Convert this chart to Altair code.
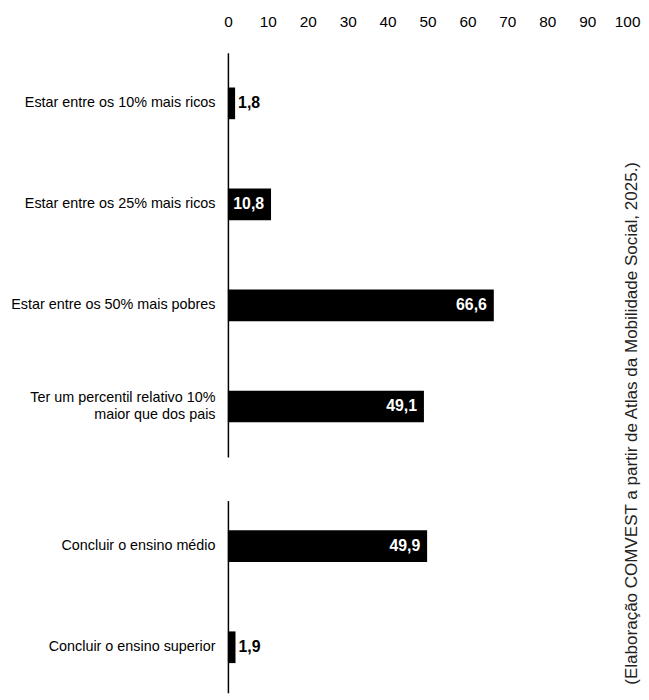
import altair as alt
import pandas as pd

categories_top = [
    "Estar entre os 10% mais ricos",
    "Estar entre os 25% mais ricos",
    "Estar entre os 50% mais pobres",
    "Ter um percentil relativo 10%|maior que dos pais",
]
values_top = [1.8, 10.8, 66.6, 49.1]
categories_bottom = ["Concluir o ensino médio", "Concluir o ensino superior"]
values_bottom = [49.9, 1.9]
x_ticks = [0, 10, 20, 30, 40, 50, 60, 70, 80, 90, 100]
source_text = "(Elaboração COMVEST a partir de Atlas da Mobilidade Social, 2025.)"

FONT = "Liberation Sans, Arial, sans-serif"
W = 403
H_TOP = 408
H_BOT = 194


def fmt(v):
    return f"{v:.1f}".replace(".", ",")


def panel(cats, vals, show_x, yscale):
    df = pd.DataFrame({"cat": cats, "v": vals, "lab": [fmt(v) for v in vals]})
    x_axis = (
        alt.Axis(orient="top", values=x_ticks, ticks=False, domain=False, grid=False,
                 labelFont=FONT, labelFontSize=15.5, labelColor="black",
                 labelPadding=24, title=None, labelFlush=False)
        if show_x else None
    )
    x = alt.X("v:Q", scale=alt.Scale(domain=[0, 100], nice=False), axis=x_axis)
    y = alt.Y("cat:N", sort=None, title=None, scale=yscale,
              axis=alt.Axis(ticks=False, domain=True, domainColor="black", domainWidth=1.5,
                            labelFont=FONT, labelFontSize=14.5, labelColor="black",
                            labelPadding=13, labelLimit=300, labelLineHeight=18,
                            labelOffset={"condition": {"test": "indexof(datum.value, '|') >= 0",
                                                       "value": -9}, "value": 0},
                            labelExpr="split(datum.label, '|')"))
    base = alt.Chart(df)
    bars = base.mark_bar(size=32, color="black").encode(x=x, y=y)
    yy = alt.Y("cat:N", sort=None, scale=yscale)
    inside = base.transform_filter("datum.v > 5").mark_text(
        align="right", baseline="middle", dx=-7, color="white",
        font=FONT, fontSize=16, fontWeight="bold"
    ).encode(x="v:Q", y=yy, text="lab:N")
    outside = base.transform_filter("datum.v <= 5").mark_text(
        align="left", baseline="middle", dx=3, color="black",
        font=FONT, fontSize=16, fontWeight="bold"
    ).encode(x="v:Q", y=yy, text="lab:N")
    return [bars, inside, outside]


one = pd.DataFrame({"t": [source_text]})
src = alt.Chart(one).mark_text(
    angle=270, align="center", baseline="middle", fontSize=17.2,
    font=FONT, color="#222"
).encode(x=alt.value(W + 5), y=alt.value(374), text="t:N")
# invisible anchor fixing the top-left corner of the drawing
anchor = alt.Chart(one).mark_rule(strokeOpacity=0, strokeWidth=0).encode(
    x=alt.value(-222), x2=alt.value(-222), y=alt.value(-42), y2=alt.value(-42)
)

top = alt.layer(
    *panel(categories_top, values_top, True, alt.Scale()), src, anchor
).properties(width=W, height=H_TOP)
bottom = alt.layer(
    *panel(categories_bottom, values_bottom, False, alt.Scale(paddingInner=0.1, paddingOuter=0))
).properties(width=W, height=H_BOT)

chart = alt.vconcat(top, bottom, spacing=44, bounds="flush").properties(
    padding=0
).configure(background="white", view=alt.ViewConfig(stroke=None))

chart.save("out.html", embed_options={"renderer": "svg", "actions": False})
